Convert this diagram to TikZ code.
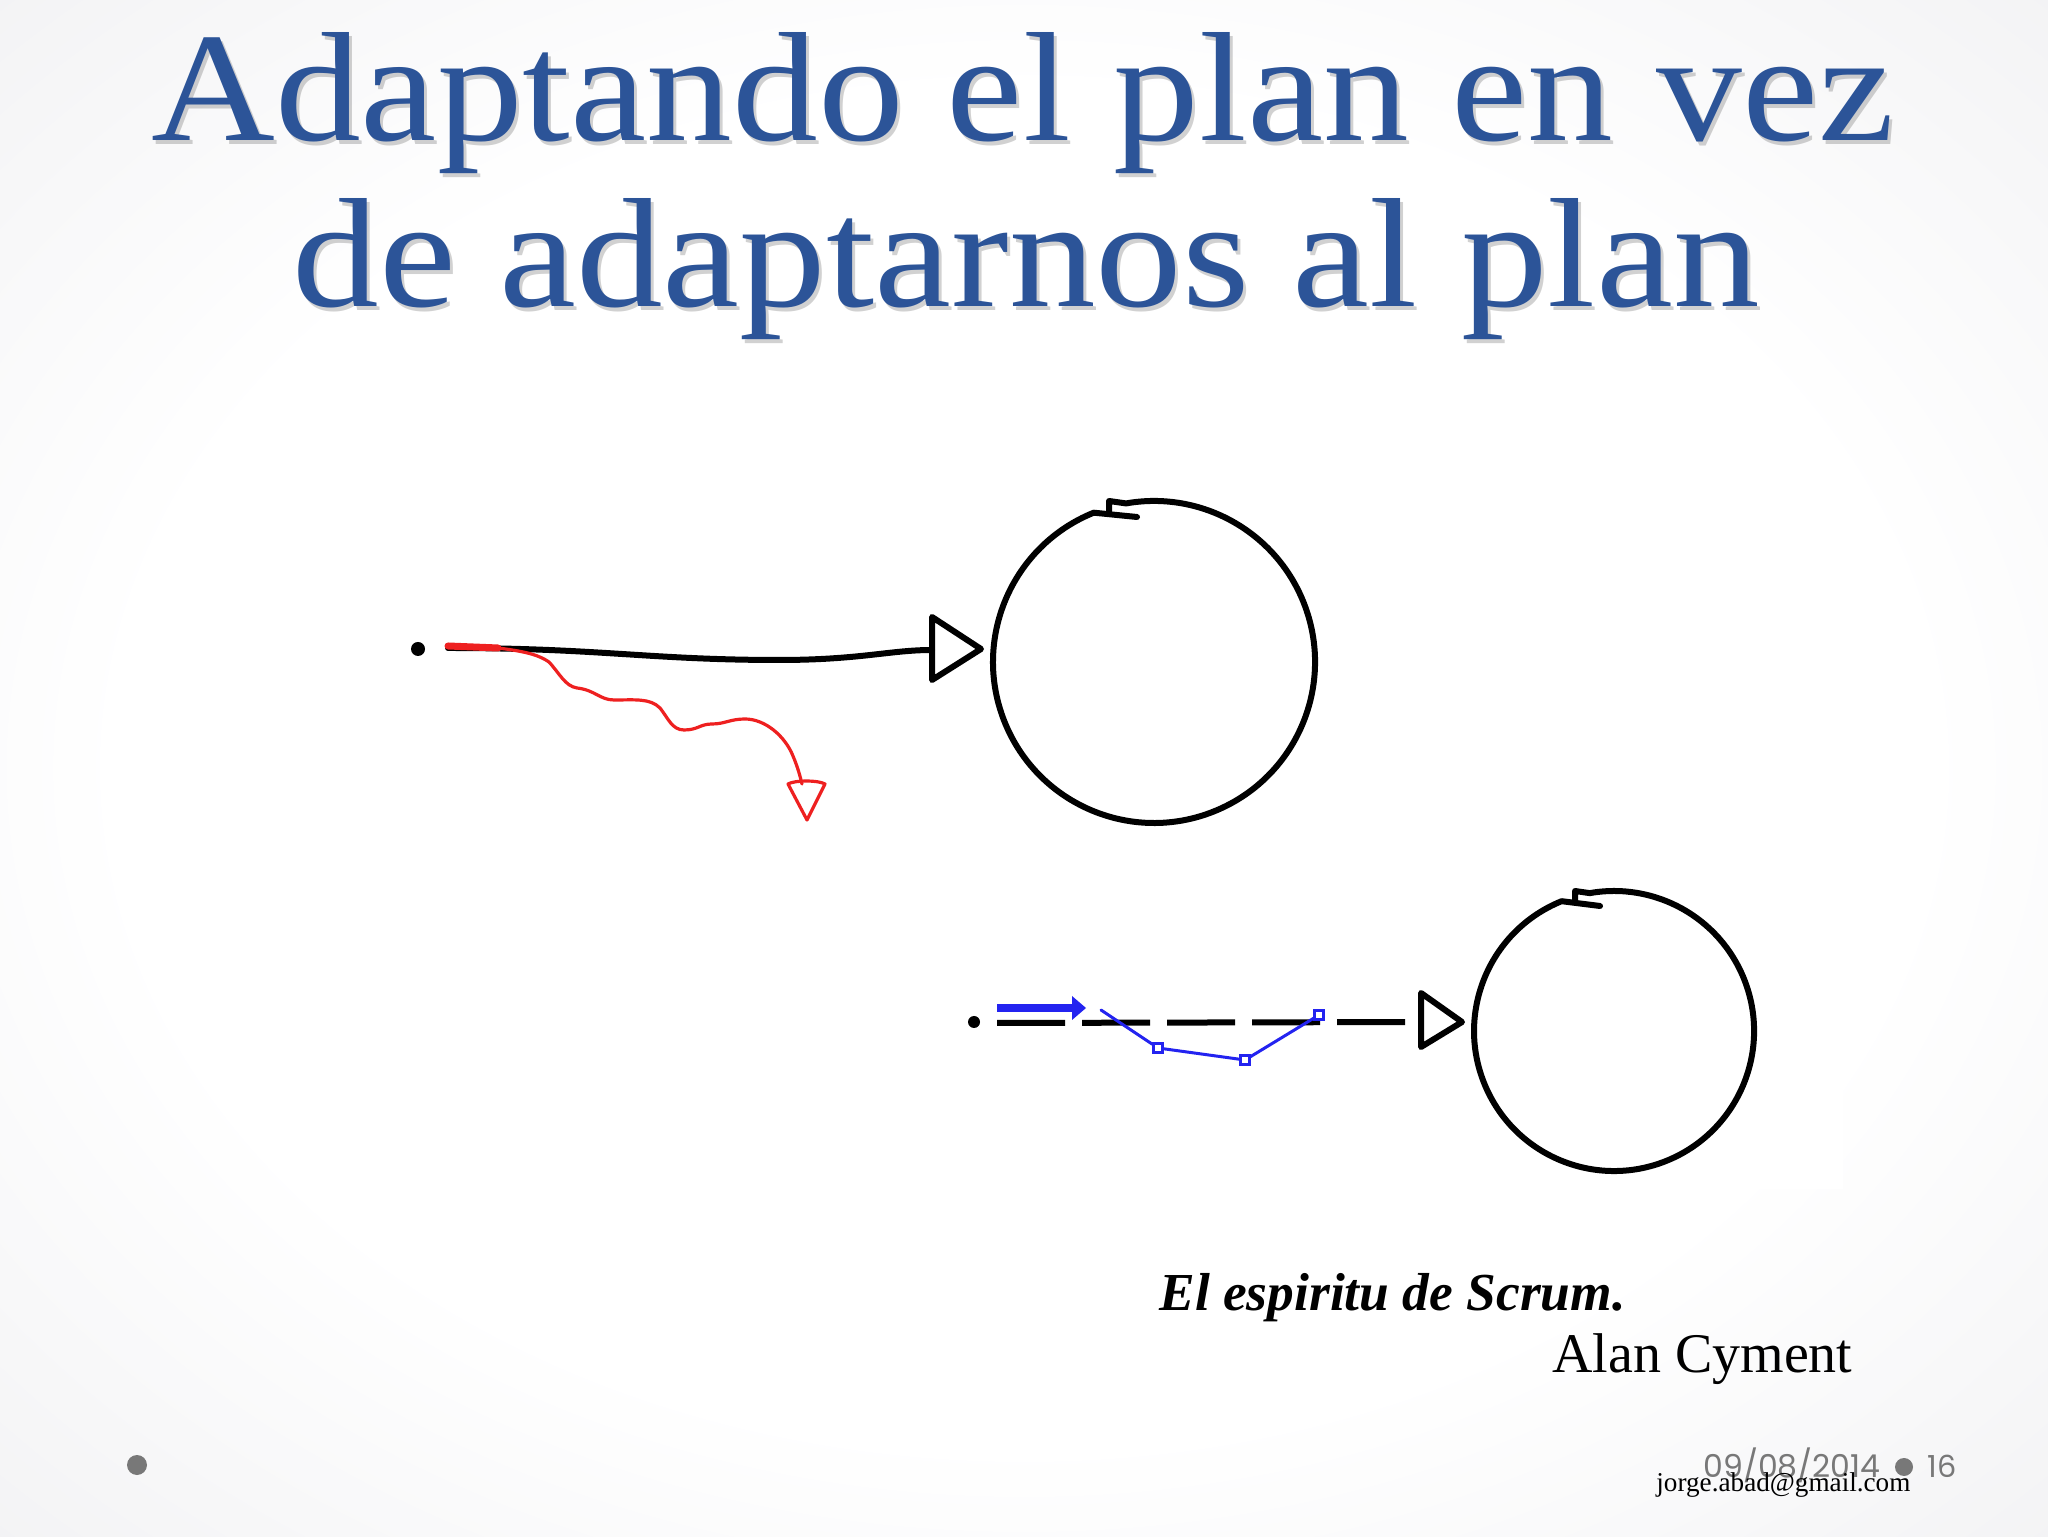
\documentclass[tikz,border=0pt]{standalone}
\usepackage{fontspec}
\setmainfont{Liberation Serif}
\newfontfamily\datefont{Poppins}
\definecolor{titleblue}{RGB}{44,84,152}
\definecolor{bgouter}{RGB}{212,212,218}
\definecolor{footgray}{RGB}{120,120,120}
\definecolor{redink}{RGB}{238,32,32}
\definecolor{blueink}{RGB}{35,35,240}
\pgfdeclareradialshading{bgshade}{\pgfpoint{0bp}{0bp}}{color(0bp)=(white); color(22bp)=(white); color(71bp)=(bgouter)}
\tikzset{
  ink/.style={line width=3pt, black, line cap=round, line join=round},
  redpen/.style={line width=1.6pt, redink, line cap=round, line join=round},
  bluepen/.style={line width=1.5pt, blueink, line cap=round, line join=round},
  mark box/.style={draw=blueink, line width=1.2pt, fill=white, inner sep=0pt, minimum size=4.5pt},
  startdot/.style={circle, fill=black, inner sep=0pt},
  titletxt/.style={anchor=base west, inner sep=0pt, text=titleblue},
  shadowtxt/.style={anchor=base west, inner sep=0pt, text=black, opacity=0.18},
  foot/.style={anchor=base west, inner sep=0pt},
  bulletdot/.style={circle, fill=footgray, inner sep=0pt, minimum size=9pt}
}
\begin{document}
\begin{tikzpicture}[x=0.5pt,y=0.5pt]
\useasboundingbox (0,0) rectangle (2048,1536);
\shade[shading=bgshade] (0,0) rectangle (2048,1536);
% image backgrounds
\fill[white] (265,687) rectangle (1700,1092);
\fill[white] (830,347) rectangle (1843,687);

% title (with soft shadow)
\node[shadowtxt] at (154,1391) {\resizebox{871.5pt}{54pt}{Adaptando el plan en vez}};
\node[shadowtxt] at (295,1225) {\resizebox{733.5pt}{54pt}{de adaptarnos al plan}};
\node[titletxt] (t1) at (151,1395) {\resizebox{871.5pt}{54pt}{Adaptando el plan en vez}};
\node[titletxt] (t2) at (292,1229) {\resizebox{733.5pt}{54pt}{de adaptarnos al plan}};

% ---------- top sketch ----------
\node[startdot, minimum size=7pt] (s1) at (418,887) {};
\coordinate (a1b) at (932,886);
\draw[ink] (448,888) .. controls (600,888) and (650,876) .. (779,876)
  .. controls (860,876) and (890,886) .. (a1b);
\draw[ink] (932,919) -- (981,887) -- (932,856) -- cycle;
\coordinate (g1) at (1154,874);
\draw[ink] (1137,1019) -- (1093.7,1023.3) arc[start angle=112, end angle=460, radius=161]
  -- (1109,1035) -- ++(0,-12);
% red wandering path
\draw[redpen, line width=3.5pt] (448,890) -- (498,888);
\draw[redpen] (448,890) -- (498,888) .. controls (530,884) and (540,880) .. (549,874)
  .. controls (560,862) and (565,850) .. (577,848)
  .. controls (595,846) and (600,836) .. (614,836)
  .. controls (635,836) and (650,838) .. (660,828)
  .. controls (668,818) and (672,806) .. (684,806)
  .. controls (698,806) and (700,812) .. (712,812)
  .. controls (725,812) and (730,817) .. (745,817)
  .. controls (765,817) and (785,800) .. (793,780)
  .. controls (798,768) and (800,760) .. (802,752);
\draw[redpen] (788,752) .. controls (795,756) and (818,756) .. (825,752) -- (807,716) -- cycle;

% ---------- bottom sketch ----------
\node[startdot, minimum size=6pt] (s2) at (974,514) {};
\draw[ink, line cap=butt, dash pattern=on 34pt off 8.5pt] (997,513) -- (1421,514);
\draw[ink] (1421,543) -- (1462,514) -- (1421,489) -- cycle;
\coordinate (g2) at (1614,505);
\draw[ink] (1600,630) -- (1561.6,634.8) arc[start angle=112, end angle=460, radius=140]
  -- (1575,645) -- ++(0,-11);
% blue iterative path
\draw[blueink, line width=4pt] (997,528) -- (1072,528);
\fill[blueink] (1072,540) -- (1086,528) -- (1072,516) -- cycle;
\node[mark box] (m1) at (1158,488) {};
\node[mark box] (m2) at (1245,476) {};
\node[mark box] (m3) at (1319,521) {};
\draw[bluepen] (1101,526) -- (m1) -- (m2) -- (m3);

% ---------- quote ----------
\node[foot] (q1) at (1159,226) {\resizebox{233pt}{!}{\bfseries\itshape El espiritu de Scrum.}};
\node[foot] (q2) at (1552,164) {\resizebox{150pt}{!}{Alan Cyment}};

% ---------- footer ----------
\node[bulletdot, minimum size=10pt] (b0) at (137,71) {};
\node[foot, text=footgray] (dt) at (1703,59) {\resizebox{88.5pt}{!}{\datefont 09/08/2014}};
\node[bulletdot] (b1) at (1904,69) {};
\node[foot, text=footgray] (pg) at (1927,59) {\resizebox{14.5pt}{!}{\datefont 16}};
\node[foot] (em) at (1656,45) {\resizebox{127pt}{!}{jorge.abad@gmail.com}};
\end{tikzpicture}
\end{document}
